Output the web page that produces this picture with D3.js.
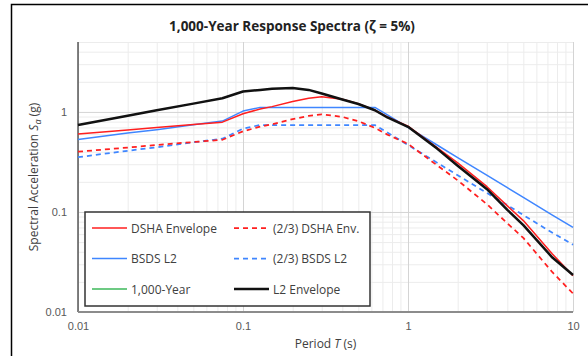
<!DOCTYPE html>
<html>
<head>
<meta charset="utf-8">
<script src="https://cdn.jsdelivr.net/npm/d3@7"></script>
<style>
  body { margin: 0; background: #fff; }
  svg { display: block; font-family: "Open Sans", "Noto Sans", sans-serif; }
</style>
</head>
<body>
<svg id="chart" width="588" height="356"></svg>
<script>
// periods (s) shared by all series
const periods = [0.01, 0.02, 0.03, 0.05, 0.075, 0.1, 0.127, 0.15, 0.2, 0.25, 0.3, 0.4, 0.5, 0.63, 0.75, 1, 1.5, 2, 3, 4, 5, 7.5, 10];

const dshaEnvelope = [0.60, 0.66, 0.70, 0.75, 0.79, 0.96, 1.07, 1.13, 1.27, 1.37, 1.42, 1.34, 1.21, 1.04, 0.89, 0.72, 0.44, 0.31, 0.18, 0.115, 0.082, 0.038, 0.023];
const dshaTwoThirds = [0.40, 0.44, 0.467, 0.50, 0.527, 0.64, 0.713, 0.753, 0.847, 0.913, 0.947, 0.893, 0.807, 0.693, 0.593, 0.48, 0.293, 0.207, 0.12, 0.077, 0.055, 0.025, 0.0153];
const bsdsL2 = [0.53, 0.614, 0.665, 0.745, 0.81, 1.02, 1.11, 1.11, 1.11, 1.11, 1.11, 1.11, 1.11, 1.11, 0.933, 0.70, 0.467, 0.35, 0.233, 0.175, 0.14, 0.093, 0.07];
const bsdsTwoThirds = [0.353, 0.409, 0.443, 0.497, 0.54, 0.68, 0.74, 0.74, 0.74, 0.74, 0.74, 0.74, 0.74, 0.74, 0.622, 0.467, 0.311, 0.233, 0.155, 0.117, 0.093, 0.062, 0.047];
const l2Envelope = [0.74, 0.915, 1.04, 1.21, 1.37, 1.60, 1.66, 1.70, 1.73, 1.66, 1.53, 1.33, 1.20, 1.04, 0.88, 0.71, 0.43, 0.29, 0.17, 0.105, 0.074, 0.035, 0.0234];

const xTicks = [0.01, 0.1, 1, 10];
const yTicks = [0.01, 0.1, 1];

const svg = d3.select("#chart");
const margin = { top: 42, left: 78, right: 15, bottom: 44 };
const width = 588 - margin.left - margin.right;
const height = 356 - margin.top - margin.bottom;

// chart border (only top and left show in the frame)
svg.append("rect")
  .attr("x", 11.5).attr("y", 4.5)
  .attr("width", 700).attr("height", 500)
  .attr("fill", "none").attr("stroke", "#000").attr("stroke-width", 1.5);

svg.append("text")
  .attr("x", 292).attr("y", 31)
  .attr("text-anchor", "middle")
  .attr("font-size", 13.5).attr("font-weight", "bold").attr("fill", "#222")
  .text("1,000-Year Response Spectra (ζ = 5%)");

const g = svg.append("g").attr("transform", "translate(" + margin.left + "," + margin.top + ")");

const x = d3.scaleLog().domain([0.01, 10]).range([0, width]);
const y = d3.scaleLog().domain([0.01, 5]).range([height, 0]);

// minor + major gridlines
const xMinor = x.ticks().filter(d => xTicks.indexOf(d) < 0);
const yMinor = y.ticks().filter(d => yTicks.indexOf(d) < 0);

g.append("g")
  .attr("transform", "translate(0," + height + ")")
  .call(d3.axisBottom(x).tickValues(xMinor).tickSize(-height).tickFormat(""))
  .call(a => a.select(".domain").remove())
  .call(a => a.selectAll("line").attr("stroke", "#ececec"));
g.append("g")
  .call(d3.axisLeft(y).tickValues(yMinor).tickSize(-width).tickFormat(""))
  .call(a => a.select(".domain").remove())
  .call(a => a.selectAll("line").attr("stroke", "#ececec"));
g.append("g")
  .attr("transform", "translate(0," + height + ")")
  .call(d3.axisBottom(x).tickValues(xTicks).tickSize(-height).tickFormat(""))
  .call(a => a.select(".domain").remove())
  .call(a => a.selectAll("line").attr("stroke", "#d4d4d4"));
g.append("g")
  .call(d3.axisLeft(y).tickValues(yTicks).tickSize(-width).tickFormat(""))
  .call(a => a.select(".domain").remove())
  .call(a => a.selectAll("line").attr("stroke", "#d4d4d4"));

// axis lines
g.append("line").attr("x1", 0).attr("x2", 0).attr("y1", 0).attr("y2", height)
  .attr("stroke", "#595959").attr("stroke-width", 1.5);
g.append("line").attr("x1", 0).attr("x2", width).attr("y1", height).attr("y2", height)
  .attr("stroke", "#8c8c8c").attr("stroke-width", 2);

// tick labels
const fmt = d3.format("~g");
g.append("g")
  .attr("transform", "translate(0," + height + ")")
  .call(d3.axisBottom(x).tickValues(xTicks).tickSize(0).tickPadding(10).tickFormat(fmt))
  .call(a => a.select(".domain").remove())
  .call(a => a.selectAll("text").attr("font-size", 11).attr("fill", "#595959").attr("font-family", null));
g.append("g")
  .call(d3.axisLeft(y).tickValues(yTicks).tickSize(0).tickPadding(11).tickFormat(fmt))
  .call(a => a.select(".domain").remove())
  .call(a => a.selectAll("text").attr("font-size", 11).attr("fill", "#595959").attr("font-family", null));

// axis titles
const xt = svg.append("text")
  .attr("x", margin.left + width / 2).attr("y", 348)
  .attr("text-anchor", "middle").attr("font-size", 12).attr("fill", "#404040");
xt.append("tspan").text("Period ");
xt.append("tspan").attr("font-style", "italic").text("T");
xt.append("tspan").text(" (s)");

const yt = svg.append("text")
  .attr("transform", "translate(38," + (margin.top + height / 2) + ") rotate(-90)")
  .attr("text-anchor", "middle").attr("font-size", 12).attr("fill", "#404040");
yt.append("tspan").text("Spectral Acceleration ");
yt.append("tspan").attr("font-style", "italic").text("S");
yt.append("tspan").attr("font-style", "italic").attr("font-size", 9).attr("dy", 3).text("a");
yt.append("tspan").attr("dy", -3).text(" (g)");

// series
const series = [
  { name: "DSHA Envelope", values: dshaEnvelope, color: "#ff1f1f", width: 1.5, dash: null },
  { name: "(2/3) DSHA Env.", values: dshaTwoThirds, color: "#ff1f1f", width: 1.75, dash: "5,4" },
  { name: "BSDS L2", values: bsdsL2, color: "#3f86ff", width: 1.5, dash: null },
  { name: "(2/3) BSDS L2", values: bsdsTwoThirds, color: "#3f86ff", width: 1.75, dash: "5,4" },
  { name: "1,000-Year", values: null, color: "#3cb95a", width: 2, dash: null },
  { name: "L2 Envelope", values: l2Envelope, color: "#111", width: 2.5, dash: null }
];

const line = d3.line()
  .x((d, i) => x(periods[i]))
  .y(d => y(d));

const plot = g.append("g");
[3, 1, 2, 0, 5].forEach(k => {
  const s = series[k];
  plot.append("path")
    .datum(s.values)
    .attr("fill", "none")
    .attr("stroke", s.color)
    .attr("stroke-width", s.width)
    .attr("stroke-dasharray", s.dash)
    .attr("stroke-linejoin", "round")
    .attr("d", line);
});

// legend
const legend = svg.append("g").attr("transform", "translate(85,212)");
legend.append("rect")
  .attr("width", 285).attr("height", 94)
  .attr("fill", "#fff").attr("stroke", "#333").attr("stroke-width", 1.5);

const item = legend.selectAll(".item")
  .data(series)
  .enter().append("g")
  .attr("class", "item")
  .attr("transform", (d, i) => "translate(" + (i % 2 ? 149 : 7) + "," + (16 + Math.floor(i / 2) * 30.5) + ")");
item.append("line")
  .attr("x1", 0).attr("x2", 35)
  .attr("stroke", d => d.color)
  .attr("stroke-width", d => d.name === "L2 Envelope" ? 2.5 : (d.dash ? 1.75 : 1.5))
  .attr("stroke-dasharray", d => d.dash);
item.append("text")
  .attr("x", 39).attr("y", 4.5)
  .attr("font-size", 12).attr("fill", "#404040")
  .text(d => d.name);
</script>
</body>
</html>
